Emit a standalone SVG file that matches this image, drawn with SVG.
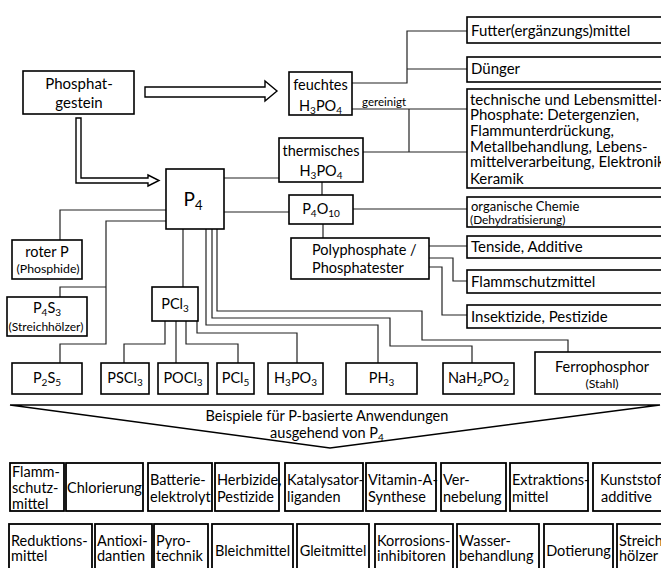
<svg xmlns="http://www.w3.org/2000/svg" width="661" height="568" viewBox="0 0 661 568">
<style>
.box{fill:#fff;stroke:#000;stroke-width:1.6}
.bb{fill:#fff;stroke:#000;stroke-width:1.8}
.c{fill:none;stroke:#222;stroke-width:1.2}
.ar{fill:#fff;stroke:#000;stroke-width:1.4;stroke-linejoin:miter}
text{font-family:Lato,"Liberation Sans",sans-serif;font-size:14.5px;fill:#000}
.m{text-anchor:middle}
.s{font-size:12.3px}
.t{font-size:15px}
.u{font-size:10px}
</style>
<rect width="661" height="568" fill="#fff"/>

<g id="connectors">
<polyline class="c" points="352,83 407,83 407,31 467,31"/>
<polyline class="c" points="407,69 467,69"/>
<polyline class="c" points="352,109 467,109"/>
<polyline class="c" points="409,109 409,152"/>
<polyline class="c" points="363,152 467,152"/>
<polyline class="c" points="224,178 279,178"/>
<polyline class="c" points="322,182 322,195"/>
<polyline class="c" points="224,212 289,212"/>
<polyline class="c" points="353,209 467,209"/>
<polyline class="c" points="323,224 323,238"/>
<polyline class="c" points="429,246 467,246"/>
<polyline class="c" points="429,258 453,258 453,281 467,281"/>
<polyline class="c" points="429,267 442,267 442,315 467,315"/>
<polyline class="c" points="166,210 60,210 60,240"/>
<polyline class="c" points="166,221 106,221 106,344 60,344 60,363"/>
<polyline class="c" points="106,287 60,287 60,297"/>
<polyline class="c" points="183,229 183,287"/>
<polyline class="c" points="165,321 165,344 124,344 124,363"/>
<polyline class="c" points="176,321 176,363"/>
<polyline class="c" points="186,321 186,344 238,344 238,363"/>
<polyline class="c" points="197,321 197,333 297,333 297,363"/>
<polyline class="c" points="206,229 206,325 378,325 378,363"/>
<polyline class="c" points="212,229 212,318 390,318 390,346 472,346 472,363"/>
<polyline class="c" points="217,229 217,311 422,311 422,340 568,340 568,352"/>
<polygon class="ar" points="145,87 265,87 265,81 277,91 265,101 265,97 145,97"/>
<polygon class="ar" points="76,118 81,118 81,178 148,178 148,175 159,180.5 148,186 148,183 76,183"/>
<text x="362" y="106" style="font-size:11.5px">gereinigt</text>
</g>

<g id="phosphatgestein"><rect class="box" x="23" y="71" width="111" height="43"/>
<text x="79" y="89" class="m" style="font-size:15px">Phosphat-</text><text x="79" y="108" class="m" style="font-size:15px">gestein</text></g>

<g id="feuchtes"><rect class="box" x="289" y="72" width="63" height="43"/>
<text x="320.5" y="90" class="m">feuchtes</text>
<text x="320.5" y="111" class="m">H<tspan class="u" dy="3">3</tspan><tspan dy="-3">PO</tspan><tspan class="u" dy="3">4</tspan></text></g>

<g id="thermisches"><rect class="box" x="279" y="138" width="84" height="44"/>
<text x="321" y="156" class="m">thermisches</text>
<text x="321" y="176" class="m">H<tspan class="u" dy="3">3</tspan><tspan dy="-3">PO</tspan><tspan class="u" dy="3">4</tspan></text></g>

<g id="p4"><rect class="box" x="166" y="169" width="58" height="60"/>
<text x="193" y="206" class="m" style="font-size:19px">P<tspan style="font-size:13px" dy="4">4</tspan></text></g>

<g id="p4o10"><rect class="box" x="289" y="195" width="64" height="29"/>
<text x="321" y="214" class="m">P<tspan class="u" dy="3">4</tspan><tspan dy="-3">O</tspan><tspan class="u" dy="3">10</tspan></text></g>

<g id="polyphosphate"><rect class="box" x="291" y="238" width="138" height="41"/>
<text x="312" y="255">Polyphosphate /</text><text x="312" y="273">Phosphatester</text></g>

<g id="futter"><rect class="box" x="467" y="17" width="205" height="26"/><text x="471" y="36" class="t">Futter(ergänzungs)mittel</text></g>
<g id="duenger"><rect class="box" x="467" y="57" width="205" height="25"/><text x="471" y="74" class="t">Dünger</text></g>
<g id="technische"><rect class="box" x="467" y="89" width="205" height="99"/>
<text x="470" y="105" class="t">technische und Lebensmittel-</text>
<text x="470" y="120" class="t">Phosphate: Detergenzien,</text>
<text x="470" y="136" class="t">Flammunterdrückung,</text>
<text x="470" y="152" class="t">Metallbehandlung, Lebens-</text>
<text x="470" y="167" class="t">mittelverarbeitung, Elektronik</text>
<text x="470" y="184" class="t">Keramik</text></g>
<g id="organische"><rect class="box" x="467" y="197" width="205" height="30"/>
<text x="471" y="211" style="font-size:13px">organische Chemie</text><text x="470" y="224" style="font-size:11.8px">(Dehydratisierung)</text></g>
<g id="tenside"><rect class="box" x="467" y="236" width="205" height="22"/><text x="471" y="252" class="t">Tenside, Additive</text></g>
<g id="flammschutz"><rect class="box" x="467" y="270" width="205" height="23"/><text x="471" y="287" class="t">Flammschutzmittel</text></g>
<g id="insektizide"><rect class="box" x="467" y="305" width="205" height="23"/><text x="471" y="322" class="t">Insektizide, Pestizide</text></g>

<g id="roterp"><rect class="box" x="12" y="240" width="70" height="39"/>
<text x="47" y="257" class="m">roter P</text><text x="48" y="273" class="m s">(Phosphide)</text></g>
<g id="p4s3"><rect class="box" x="7" y="297" width="80" height="39"/>
<text x="47" y="313" class="m">P<tspan class="u" dy="3">4</tspan><tspan dy="-3">S</tspan><tspan class="u" dy="3">3</tspan></text>
<text x="46" y="331" class="m" style="font-size:12px">(Streichhölzer)</text></g>
<g id="pcl3"><rect class="box" x="152" y="287" width="46" height="34"/>
<text x="175" y="309" class="m">PCl<tspan class="u" dy="3">3</tspan></text></g>

<g id="p2s5"><rect class="box" x="12" y="363" width="70" height="31"/><text x="47" y="383" class="m">P<tspan class="u" dy="3">2</tspan><tspan dy="-3">S</tspan><tspan class="u" dy="3">5</tspan></text></g>
<g id="pscl3"><rect class="box" x="101" y="363" width="48" height="31"/><text x="125" y="383" class="m">PSCl<tspan class="u" dy="3">3</tspan></text></g>
<g id="pocl3"><rect class="box" x="158" y="363" width="50" height="31"/><text x="183" y="383" class="m">POCl<tspan class="u" dy="3">3</tspan></text></g>
<g id="pcl5"><rect class="box" x="217" y="363" width="37" height="31"/><text x="235.5" y="383" class="m">PCl<tspan class="u" dy="3">5</tspan></text></g>
<g id="h3po3"><rect class="box" x="268" y="363" width="55" height="31"/><text x="295.5" y="383" class="m">H<tspan class="u" dy="3">3</tspan><tspan dy="-3">PO</tspan><tspan class="u" dy="3">3</tspan></text></g>
<g id="ph3"><rect class="box" x="346" y="363" width="71" height="31"/><text x="381.5" y="383" class="m">PH<tspan class="u" dy="3">3</tspan></text></g>
<g id="nah2po2"><rect class="box" x="443" y="363" width="71" height="31"/><text x="478.5" y="383" class="m">NaH<tspan class="u" dy="3">2</tspan><tspan dy="-3">PO</tspan><tspan class="u" dy="3">2</tspan></text></g>
<g id="ferrophosphor"><rect class="box" x="535" y="352" width="137" height="42"/>
<text x="602" y="372" class="m">Ferrophosphor</text><text x="602" y="388" class="m s">(Stahl)</text></g>

<g id="banner"><polygon points="10,405 660,405 330,448" fill="#fff" stroke="#000" stroke-width="1.4"/>
<text x="327" y="421" class="m">Beispiele für P-basierte Anwendungen</text>
<text x="327" y="438" class="m">ausgehend von P<tspan class="u" dy="3">4</tspan></text></g>

<g id="row1">
<g id="a1"><rect class="bb" x="10" y="463" width="54" height="48"/><text x="12" y="477">Flamm-</text><text x="12" y="493">schutz-</text><text x="12" y="509">mittel</text></g>
<g id="a2"><rect class="bb" x="66" y="463" width="77" height="48"/><text x="104.5" y="493" class="m">Chlorierung</text></g>
<g id="a3"><rect class="bb" x="148" y="463" width="64" height="48"/><text x="150" y="485">Batterie-</text><text x="150" y="502">elektrolyt</text></g>
<g id="a4"><rect class="bb" x="215" y="463" width="64" height="48"/><text x="217" y="485">Herbizide,</text><text x="217" y="502">Pestizide</text></g>
<g id="a5"><rect class="bb" x="285" y="463" width="78" height="48"/><text x="287" y="485">Katalysator-</text><text x="287" y="502">liganden</text></g>
<g id="a6"><rect class="bb" x="366" y="463" width="70" height="48"/><text x="368" y="485">Vitamin-A-</text><text x="368" y="502">Synthese</text></g>
<g id="a7"><rect class="bb" x="441" y="463" width="65" height="48"/><text x="443" y="485">Ver-</text><text x="443" y="502">nebelung</text></g>
<g id="a8"><rect class="bb" x="510" y="463" width="78" height="48"/><text x="512" y="485">Extraktions-</text><text x="512" y="502">mittel</text></g>
<g id="a9"><rect class="bb" x="593" y="463" width="80" height="48"/><text x="600" y="485">Kunststoff</text><text x="601" y="502">additive</text></g>
</g>

<g id="row2">
<g id="b1"><rect class="bb" x="9" y="524" width="83" height="50"/><text x="11" y="546">Reduktions-</text><text x="11" y="561">mittel</text></g>
<g id="b2"><rect class="bb" x="95" y="524" width="57" height="50"/><text x="97" y="546">Antioxi-</text><text x="97" y="561">dantien</text></g>
<g id="b3"><rect class="bb" x="154" y="524" width="54" height="50"/><text x="156" y="546">Pyro-</text><text x="156" y="561">technik</text></g>
<g id="b4"><rect class="bb" x="212" y="524" width="81" height="50"/><text x="252.5" y="556" class="m">Bleichmittel</text></g>
<g id="b5"><rect class="bb" x="297" y="524" width="72" height="50"/><text x="333" y="556" class="m">Gleitmittel</text></g>
<g id="b6"><rect class="bb" x="375" y="524" width="78" height="50"/><text x="377" y="546">Korrosions-</text><text x="377" y="561">inhibitoren</text></g>
<g id="b7"><rect class="bb" x="457" y="524" width="82" height="50"/><text x="459" y="546">Wasser-</text><text x="459" y="561">behandlung</text></g>
<g id="b8"><rect class="bb" x="544" y="524" width="69" height="50"/><text x="578.5" y="556" class="m">Dotierung</text></g>
<g id="b9"><rect class="bb" x="617" y="524" width="60" height="50"/><text x="619" y="546">Streich-</text><text x="619" y="561">hölzer</text></g>
</g>
</svg>
